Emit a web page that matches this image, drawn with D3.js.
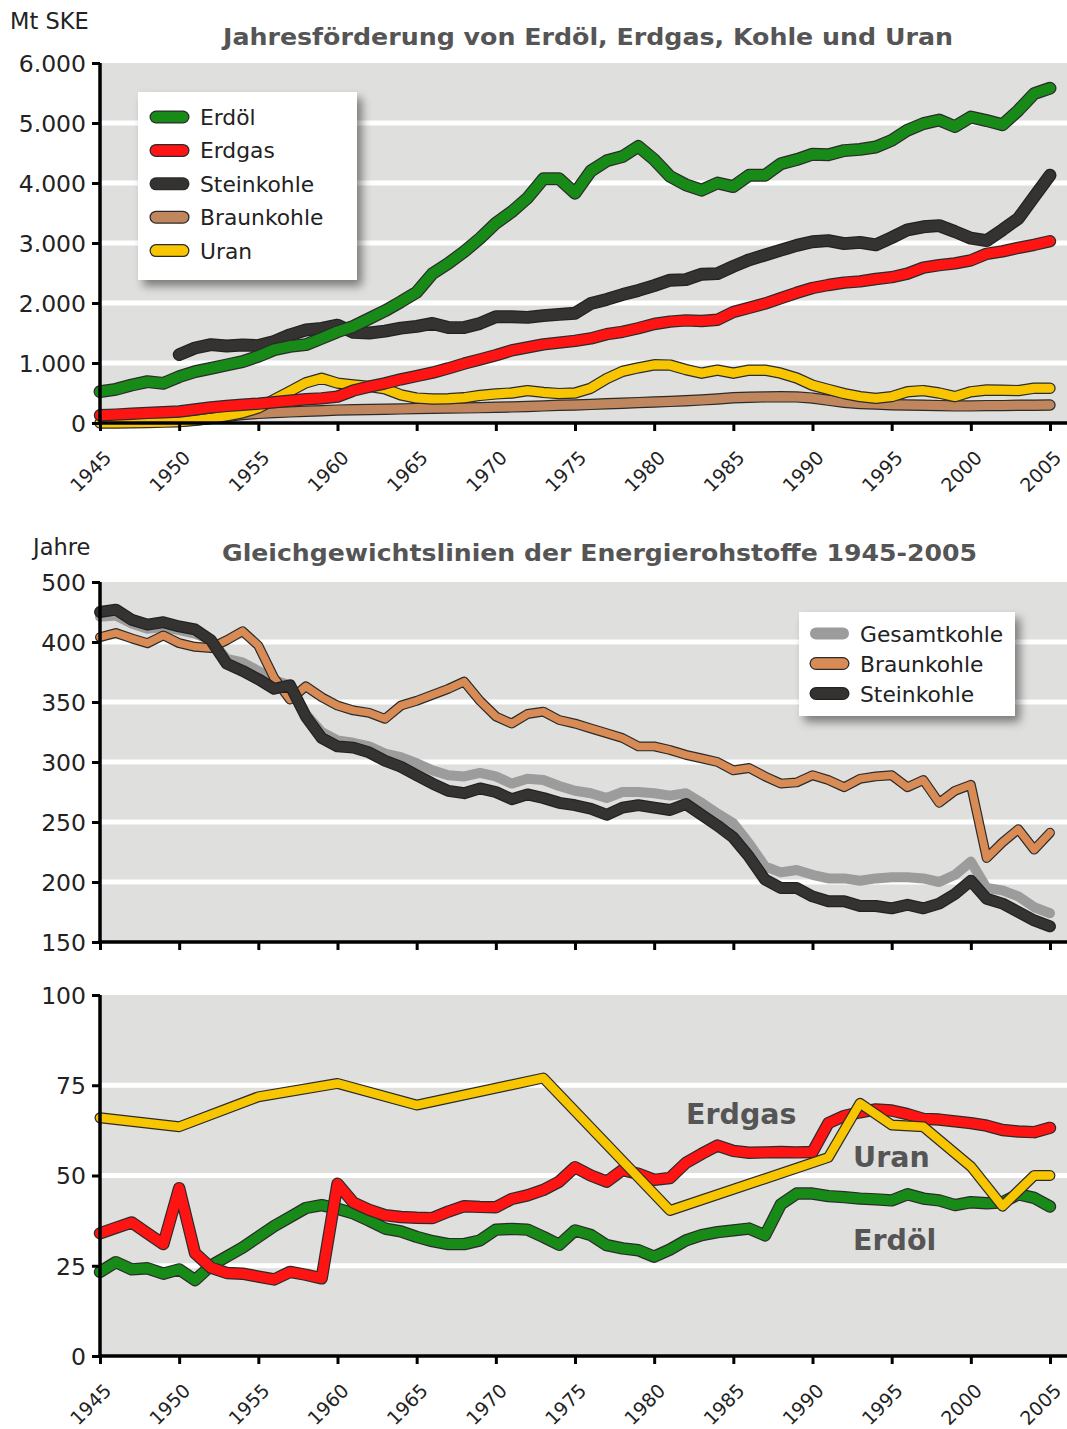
<!DOCTYPE html>
<html><head><meta charset="utf-8">
<script src="https://cdn.jsdelivr.net/npm/d3@7"></script>
<style>body{margin:0;background:#fff}svg{display:block}text{font-family:"DejaVu Sans",Verdana,sans-serif}</style>
</head><body>
<svg id="c" width="1067" height="1429"></svg>
<script>
const years = [1945,1946,1947,1948,1949,1950,1951,1952,1953,1954,1955,1956,1957,1958,1959,1960,1961,1962,1963,1964,1965,1966,1967,1968,1969,1970,1971,1972,1973,1974,1975,1976,1977,1978,1979,1980,1981,1982,1983,1984,1985,1986,1987,1988,1989,1990,1991,1992,1993,1994,1995,1996,1997,1998,1999,2000,2001,2002,2003,2004,2005];
const tickYears = [1945,1950,1955,1960,1965,1970,1975,1980,1985,1990,1995,2000,2005];

// Chart 1: Jahresförderung (Mt SKE)
const foerderErdoel = [522,561,633,689,661,772,856,911,967,1022,1111,1222,1278,1306,1411,1522,1610,1740,1870,2020,2180,2490,2660,2856,3078,3330,3520,3750,4070,4070,3830,4200,4370,4440,4610,4390,4110,3970,3880,4000,3940,4130,4130,4320,4390,4480,4470,4540,4560,4600,4710,4880,4990,5050,4940,5100,5040,4970,5210,5490,5580];
const foerderErdgas = [130,140,155,168,180,192,225,260,285,305,322,345,372,395,411,440,540,606,661,728,783,839,911,990,1060,1130,1210,1260,1310,1340,1370,1410,1480,1520,1580,1650,1690,1710,1700,1720,1850,1920,1990,2080,2170,2250,2300,2340,2360,2400,2430,2490,2590,2630,2660,2710,2820,2860,2920,2970,3030];
const foerderSteinkohle = [null,null,null,null,null,1140,1250,1306,1283,1300,1290,1360,1470,1550,1578,1630,1510,1500,1530,1580,1610,1660,1590,1590,1660,1770,1770,1760,1790,1810,1830,1990,2060,2140,2210,2290,2380,2390,2480,2490,2610,2720,2800,2880,2960,3020,3040,2990,3010,2970,3090,3220,3270,3290,3190,3080,3040,3220,3410,3770,4130];
const foerderBraunkohle = [null,null,null,null,null,30,50,75,110,140,160,175,185,195,205,215,220,225,230,235,240,245,248,252,256,262,268,275,285,295,300,310,320,330,340,350,360,370,385,400,420,430,435,438,435,415,380,345,325,315,305,300,295,290,285,285,290,290,295,295,300];
const foerderUran = [0,0,3,8,14,22,45,78,120,170,250,390,530,670,745,665,635,610,570,470,415,400,405,420,460,485,500,540,510,490,500,580,740,860,920,970,965,890,830,880,830,880,880,830,750,630,560,490,440,410,440,520,540,500,440,520,550,545,540,580,580];
const foerderTicks = [0,1000,2000,3000,4000,5000,6000];
const foerderTickLabels = ["0","1.000","2.000","3.000","4.000","5.000","6.000"];

// Chart 2: Gleichgewichtslinien Kohle (Jahre)
const glGesamtkohle = [442,444,431,422,425,420,414,403,386,383,376,368,364,340,325,318,316,313,307,304,299,293,289,288,291,288,282,286,285,280,276,274,270,275,275,274,272,274,266,257,249,232,213,208,210,206,203,203,201,203,204,204,203,200,206,217,195,193,188,179,174];
const glBraunkohle = [408,415,406,399,411,399,396,395,403,418,397,370,352,363,354,347,343,341,336,347,351,356,361,367,351,338,332,340,342,335,332,328,324,320,313,313,310,306,303,300,293,295,288,282,283,289,285,279,286,288,289,279,285,266,276,281,220,233,244,227,241];
const glSteinkohle = [450,454,437,429,433,426,421,403,382,376,369,361,364,338,320,313,312,308,301,296,289,282,276,274,278,275,269,273,270,266,264,261,256,262,264,262,260,265,256,247,237,221,202,195,195,188,184,184,180,180,178,181,178,182,190,201,186,182,175,168,163];
const kohleTicks = [150,200,250,300,350,400,500];

// Chart 3: Gleichgewichtslinien Öl, Gas, Uran (Jahre)
const glErdoel = [23.3,26,24,24.3,22.8,24,21,25,27.5,30,33,36,38.5,41,41.8,40.8,39.5,37.5,35.3,34.5,33,31.8,31,31,32,35,35.2,35,33,30.8,34.8,33.5,30.7,29.8,29.3,27.5,29.5,32,33.5,34.3,34.8,35.3,33.4,42,45,45,44.3,44,43.6,43.4,43.1,44.8,43.6,43.1,41.8,42.6,42.3,42.6,44.8,43.8,41.4];
const glErdgas = [34,35.5,37,34,31,46.5,28.5,24.5,23,22.8,22,21.2,23.3,22.5,21.5,47.7,42.5,40.5,39,38.5,38.3,38.2,40,41.5,41.3,41.2,43.5,44.5,46,48.3,52.3,50,48.3,51.5,50.5,48.8,49.3,53.5,56,58.3,56.8,56.3,56.4,56.5,56.4,56.5,64.5,66.5,67.5,68.3,68,67,65.7,65.5,65,64.5,63.8,62.6,62.2,62,63.2];
const uranYears = [1945,1950,1955,1960,1965,1973,1981,1991,1993,1995,1997,2000,2002,2004,2005];
const glUran = [66,63.5,71.8,75.5,69.5,77,40.3,55,70,64,63.5,52.5,41.5,50,50];
const ogTicks = [0,25,50,75,100];

const svg = d3.select("#c");
const defs = svg.append("defs");
const f = defs.append("filter").attr("id","sh").attr("x","-20%").attr("y","-20%").attr("width","150%").attr("height","160%");
f.append("feDropShadow").attr("dx",5).attr("dy",6).attr("stdDeviation",5).attr("flood-color","#000").attr("flood-opacity",0.45);

const X0 = 100, X1 = 1050, PR = 1067;
const x = d3.scaleLinear().domain([1945,2005]).range([X0,X1]);
const BG = "#dfdfdd";

function panel(y, top, bottom, gridVals) {
  const g = svg.append("g");
  g.append("rect").attr("x",X0).attr("y",top).attr("width",PR-X0).attr("height",bottom-top).attr("fill",BG);
  g.selectAll(".grid").data(gridVals).join("line")
    .attr("x1",X0).attr("x2",PR).attr("y1",d=>y(d)).attr("y2",d=>y(d))
    .attr("stroke","#fff").attr("stroke-width",5);
  return g;
}
function axes(g, y, top, bottom, ticks, labels, showXLabels) {
  const ya = d3.axisLeft(y).tickValues(ticks).tickSize(8).tickFormat((d,i)=>labels ? labels[i] : d);
  const ga = g.append("g").attr("transform",`translate(${X0},0)`).call(ya);
  ga.select(".domain").remove();
  ga.selectAll(".tick line").attr("stroke","#000").attr("stroke-width",3);
  ga.selectAll(".tick text").attr("font-size",23.5).attr("fill","#222").attr("x",-14).attr("dy","0.36em")
    .style("font-family",'"DejaVu Sans",Verdana,sans-serif');
  g.append("line").attr("x1",X0).attr("x2",X0).attr("y1",top).attr("y2",bottom+1.5).attr("stroke","#000").attr("stroke-width",3.5);
  const xa = d3.axisBottom(x).tickValues(tickYears).tickSize(8).tickFormat(showXLabels ? d3.format("d") : "");
  const gx = g.append("g").attr("transform",`translate(0,${bottom})`).call(xa);
  gx.select(".domain").remove();
  gx.selectAll(".tick line").attr("stroke","#000").attr("stroke-width",3);
  g.append("line").attr("x1",X0-1.5).attr("x2",PR).attr("y1",bottom).attr("y2",bottom).attr("stroke","#000").attr("stroke-width",3.5);
  if (showXLabels) {
    gx.selectAll(".tick text").attr("y",0).attr("dy",0)
      .attr("transform","translate(12,36) rotate(-45)")
      .attr("text-anchor","end").attr("font-size",19).attr("fill","#222")
      .style("font-family",'"DejaVu Sans",Verdana,sans-serif');
  }
}
function drawLine(g, y, xs, vals, color, w, outline) {
  const data = xs.map((yr,i)=>({yr, v: vals[i]})).filter(d=>d.v!=null);
  const line = d3.line().x(d=>x(d.yr)).y(d=>y(d.v));
  if (outline) {
    g.append("path").datum(data).attr("d",line).attr("fill","none").attr("stroke",outline)
      .attr("stroke-width",w+2.4).attr("stroke-linejoin","round").attr("stroke-linecap","round");
  }
  g.append("path").datum(data).attr("d",line).attr("fill","none").attr("stroke",color)
    .attr("stroke-width",w).attr("stroke-linejoin","round").attr("stroke-linecap","round");
}
function title(txt, x1, x2, yb) {
  svg.append("text").attr("x",x1).attr("y",yb).attr("font-size",23)
    .attr("textLength",x2-x1).attr("lengthAdjust","spacingAndGlyphs")
    .attr("font-weight","bold").attr("fill","#555").text(txt);
}

const C = {green:"#178a17", red:"#ff1414", dark:"#353331", brown:"#c0875f", yellow:"#f7c600", orange:"#d98b56", gray:"#9c9c9c"};
const OL = "#2b2b2b";

// ===== Chart 1 =====
{
  const top = 63, bottom = 423;
  const y = d3.scaleLinear().domain([0,6000]).range([bottom, top]);
  const g = panel(y, top, bottom, [1000,2000,3000,4000,5000]);
  const lg = g.append("g");
  drawLine(lg, y, years, foerderBraunkohle, C.brown, 9, OL);
  drawLine(lg, y, years, foerderUran, C.yellow, 9, OL);
  drawLine(lg, y, years, foerderErdgas, C.red, 10, OL);
  drawLine(lg, y, years, foerderSteinkohle, C.dark, 10.5, "#222");
  drawLine(lg, y, years, foerderErdoel, C.green, 10.5, OL);
  axes(g, y, top, bottom, foerderTicks, foerderTickLabels, true);
  svg.append("text").attr("x",10).attr("y",29).attr("font-size",22.5).attr("fill","#222").text("Mt SKE");
  title("Jahresförderung von Erdöl, Erdgas, Kohle und Uran", 223, 953, 45);
  const L = svg.append("g");
  L.append("rect").attr("x",138).attr("y",92).attr("width",219).attr("height",188).attr("fill","#fff").attr("filter","url(#sh)");
  const items = [["Erdöl",C.green],["Erdgas",C.red],["Steinkohle",C.dark],["Braunkohle",C.brown],["Uran",C.yellow]];
  items.forEach((it,i)=>{
    const yy = 117 + i*33.4;
    L.append("line").attr("x1",156).attr("x2",183).attr("y1",yy).attr("y2",yy).attr("stroke",OL).attr("stroke-width",13).attr("stroke-linecap","round");
    L.append("line").attr("x1",156).attr("x2",183).attr("y1",yy).attr("y2",yy).attr("stroke",it[1]).attr("stroke-width",10.5).attr("stroke-linecap","round");
    L.append("text").attr("x",200).attr("y",yy+8).attr("font-size",21.8).attr("fill","#222").text(it[0]);
  });
}

// ===== Chart 2 =====
{
  const top = 582, bottom = 942;
  const y = d3.scaleLinear().domain([150,400,500]).range([bottom, 642, top]);
  const g = panel(y, top, bottom, [200,250,300,350,400]);
  const lg = g.append("g");
  drawLine(lg, y, years, glGesamtkohle, C.gray, 10, null);
  drawLine(lg, y, years, glBraunkohle, C.orange, 7.5, OL);
  drawLine(lg, y, years, glSteinkohle, C.dark, 9.5, "#222");
  axes(g, y, top, bottom, kohleTicks, null, false);
  svg.append("text").attr("x",33).attr("y",555).attr("font-size",22.5).attr("fill","#222").text("Jahre");
  title("Gleichgewichtslinien der Energierohstoffe 1945-2005", 222, 977, 561);
  const L = svg.append("g");
  L.append("rect").attr("x",799).attr("y",612).attr("width",216).attr("height",104).attr("fill","#fff").attr("filter","url(#sh)");
  const items = [["Gesamtkohle",C.gray,null],["Braunkohle",C.orange,OL],["Steinkohle",C.dark,"#222"]];
  items.forEach((it,i)=>{
    const yy = 633.5 + i*30;
    if (it[2]) L.append("line").attr("x1",816).attr("x2",843).attr("y1",yy).attr("y2",yy).attr("stroke",it[2]).attr("stroke-width",13).attr("stroke-linecap","round");
    L.append("line").attr("x1",816).attr("x2",843).attr("y1",yy).attr("y2",yy).attr("stroke",it[1]).attr("stroke-width",it[2]?10.5:12).attr("stroke-linecap","round");
    L.append("text").attr("x",860).attr("y",yy+8).attr("font-size",21.8).attr("fill","#222").text(it[0]);
  });
}

// ===== Chart 3 =====
{
  const top = 995, bottom = 1356;
  const y = d3.scaleLinear().domain([0,100]).range([bottom, top]);
  const g = panel(y, top, bottom, [25,50,75]);
  const lg = g.append("g");
  drawLine(lg, y, years, glErdoel, C.green, 10, OL);
  drawLine(lg, y, years, glErdgas, C.red, 10, OL);
  drawLine(lg, y, uranYears, glUran, C.yellow, 8.5, OL);
  axes(g, y, top, bottom, ogTicks, null, true);
  const lab = [["Erdgas",686,1124],["Uran",853,1167],["Erdöl",853,1250]];
  lab.forEach(l=>svg.append("text").attr("x",l[1]).attr("y",l[2]).attr("font-size",28.5).attr("font-weight","bold").attr("fill","#555").text(l[0]));
}
</script>
</body></html>
